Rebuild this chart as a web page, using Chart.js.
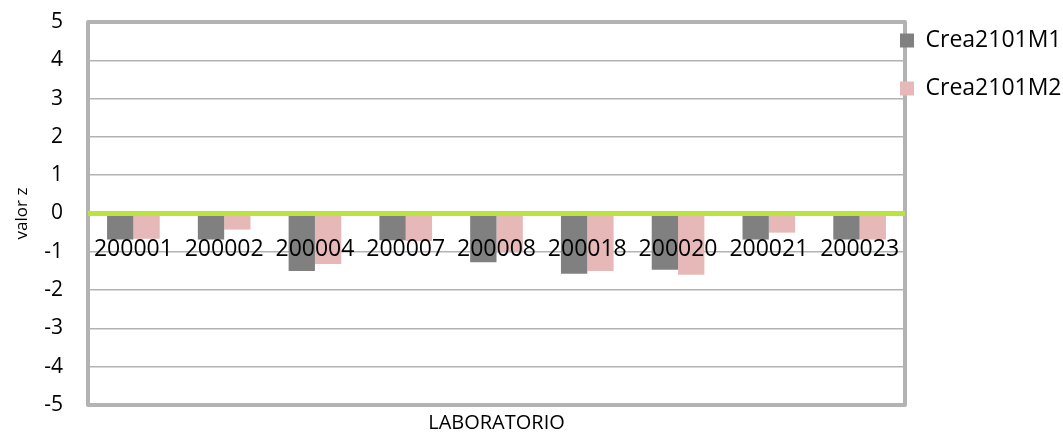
<!DOCTYPE html>
<html>
<head>
<meta charset="utf-8">
<script src="https://cdn.jsdelivr.net/npm/chart.js@4.4.1/dist/chart.umd.min.js"></script>
<style>
  html, body { margin: 0; padding: 0; background: #fff; }
  #wrap { width: 1063px; height: 435px; }
</style>
</head>
<body>
<div id="wrap"><canvas id="zChart" width="1063" height="435"></canvas></div>
<script>
// z-scores per lab
const labs = ['200001', '200002', '200004', '200007', '200008', '200018', '200020', '200021', '200023'];
const crea2101M1 = [-0.68, -0.68, -1.5, -0.7, -1.27, -1.57, -1.47, -0.68, -0.68];
const crea2101M2 = [-0.66, -0.42, -1.32, -0.72, -1.0, -1.5, -1.6, -0.5, -0.68];
const yTicks = [5, 4, 3, 2, 1, 0, -1, -2, -3, -4, -5];

const FONT = "'Open Sans', sans-serif";
const GRID = '#b3b3b3';

// thick frame (under the legend) + green zero line
const frame = {
    id: 'frame',
    beforeDraw(chart) {
        const { ctx, chartArea: a } = chart;
        ctx.save();
        ctx.strokeStyle = GRID;
        ctx.lineWidth = 4;
        ctx.lineJoin = 'round';
        ctx.strokeRect(a.left, a.top, a.right - a.left, a.bottom - a.top);
        ctx.restore();
    },
    afterDatasetsDraw(chart) {
        const { ctx, chartArea: a, scales } = chart;
        const y0 = scales.y.getPixelForValue(0);
        ctx.save();
        ctx.strokeStyle = '#bde33f';
        ctx.lineWidth = 5;
        ctx.beginPath();
        ctx.moveTo(a.left, y0);
        ctx.lineTo(a.right, y0);
        ctx.stroke();
        ctx.restore();
    }
};

// pull the legend in over the frame, like the original
const legendShift = {
    id: 'legendShift',
    afterLayout(chart) {
        const l = chart.legend;
        l.left -= 30;
        l.top -= 18;
    }
};

new Chart(document.getElementById('zChart'), {
    type: 'bar',
    data: {
        labels: labs,
        datasets: [
            { label: 'Crea2101M1', data: crea2101M1, backgroundColor: '#808080' },
            { label: 'Crea2101M2', data: crea2101M2, backgroundColor: '#e6b8b7' }
        ]
    },
    options: {
        responsive: false,
        animation: false,
        categoryPercentage: 0.58,
        barPercentage: 1,
        layout: { padding: { top: 22, right: 0, bottom: 0, left: 0 } },
        plugins: {
            tooltip: { enabled: false },
            legend: {
                position: 'right',
                align: 'start',
                maxWidth: 158,
                labels: {
                    boxWidth: 14,
                    boxHeight: 14,
                    padding: 25,
                    color: '#000',
                    font: { family: FONT, size: 23 }
                }
            }
        },
        scales: {
            x: {
                grid: { display: false, drawTicks: false },
                border: { display: false },
                ticks: { display: false },
                title: {
                    display: true,
                    text: 'LABORATORIO',
                    color: '#000',
                    font: { family: FONT, size: 20 },
                    padding: { top: 2, bottom: 0 }
                },
                afterFit(s) { s.height = 30; }
            },
            xLab: {
                type: 'category',
                axis: 'x',
                position: { y: 0 },
                grid: { display: false, drawTicks: false },
                border: { display: false },
                ticks: {
                    z: 1,
                    color: '#000',
                    padding: 22,
                    maxRotation: 0,
                    autoSkip: false,
                    font: { family: FONT, size: 23 }
                },
                afterFit(s) { s.height = 0; }
            },
            y: {
                min: -5,
                max: 5,
                afterBuildTicks(s) { s.ticks = yTicks.map(v => ({ value: v })); },
                grid: { color: GRID, lineWidth: 1.5, drawTicks: true, tickLength: 25, tickColor: 'rgba(0,0,0,0)' },
                border: { display: false },
                ticks: {
                    color: '#000',
                    padding: 0,
                    font: { family: FONT, size: 21 }
                },
                title: {
                    display: true,
                    text: 'valor z',
                    color: '#000',
                    font: { family: FONT, size: 17 },
                    padding: { top: 12, bottom: 0 }
                },
                afterFit(s) { s.width = 88; }
            }
        }
    },
    plugins: [frame, legendShift]
});
</script>
</body>
</html>
